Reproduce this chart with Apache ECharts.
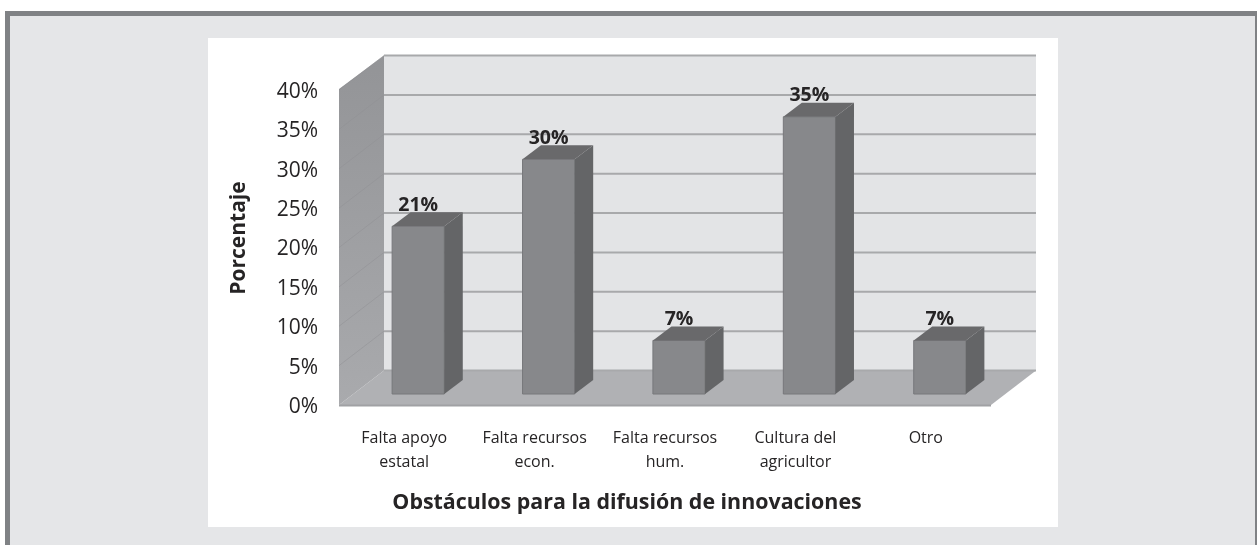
<!DOCTYPE html>
<html>
<head>
<meta charset="utf-8">
<style>html,body{margin:0;padding:0;background:#fff}#c{width:1257px;height:545px}</style>
<script src="https://cdn.jsdelivr.net/npm/echarts@6/dist/echarts.min.js"></script>
</head>
<body>
<div id="c"></div>
<script>
var categories = ['Falta apoyo\nestatal', 'Falta recursos\necon.', 'Falta recursos\nhum.', 'Cultura del\nagricultor', 'Otro'];
var barValues = [21.3, 29.8, 6.8, 35.2, 6.8];
var barLabels = ['21%', '30%', '7%', '35%', '7%'];
var yTicks = [0, 5, 10, 15, 20, 25, 30, 35, 40];
var xTitle = 'Obstáculos para la difusión de innovaciones';
var yTitle = 'Porcentaje';

var FONT = '"Open Sans"';
var INK = '#262425';
var WALL_DX = 45, WALL_DY = -34.5;
var BAR_DX = 14, BAR_DY = -11;
var DEPTH_DX = 18.5, DEPTH_DY = -14;

function poly(points, fill, stroke, z) {
  return {
    type: 'polygon', z2: z || 0,
    shape: { points: points },
    style: { fill: fill, stroke: stroke || null, lineWidth: stroke ? 1 : 0 }
  };
}

function renderWalls(params, api) {
  var g = params.coordSys;
  var x0 = g.x, x1 = g.x + g.width, y0 = g.y + g.height, yT = g.y;
  return {
    type: 'group',
    children: [
      poly([[x0 + WALL_DX, yT + WALL_DY], [x1 + WALL_DX, yT + WALL_DY], [x1 + WALL_DX, y0 + WALL_DY], [x0 + WALL_DX, y0 + WALL_DY]], '#e3e4e6'),
      poly([[x0, y0], [x1, y0], [x1 + WALL_DX, y0 + WALL_DY], [x0 + WALL_DX, y0 + WALL_DY]], '#b0b1b4'),
      poly([[x0, yT - 1], [x0 + WALL_DX, yT + WALL_DY], [x0 + WALL_DX, y0 + WALL_DY], [x0, y0]], {
        type: 'linear', x: 0, y: 0, x2: 0, y2: 1,
        colorStops: [{ offset: 0, color: '#939497' }, { offset: 1, color: '#a9aaad' }]
      }),
      { type: 'line', shape: { x1: x0, y1: y0 + 0.5, x2: x1, y2: y0 + 0.5 }, style: { stroke: '#a0a1a4', lineWidth: 2 } }
    ]
  };
}

function renderGrid(params, api) {
  var g = params.coordSys;
  var y = api.coord([0, api.value(1)])[1];
  var x0 = g.x, x1 = g.x + g.width;
  var isFloor = api.value(1) === 0;
  return {
    type: 'group',
    children: [
      { type: 'line', shape: { x1: x0 + WALL_DX, y1: y + WALL_DY, x2: x1 + WALL_DX, y2: y + WALL_DY }, style: { stroke: '#a8a9ab', lineWidth: 2 } },
      { type: 'line', shape: { x1: x0, y1: y, x2: x0 + WALL_DX, y2: y + WALL_DY }, style: { stroke: '#8f9093', lineWidth: 1, opacity: isFloor ? 0 : 0.5 } }
    ]
  };
}

function renderBar(params, api) {
  var i = api.value(0);
  var base = api.coord([i, 0]);
  var top = api.coord([i, api.value(1)]);
  var w = api.size([1, 0])[0] * 0.4;
  var l = base[0] - w / 2 + BAR_DX, r = l + w;
  var yb = base[1] + BAR_DY, yt = top[1] + BAR_DY;
  return {
    type: 'group',
    children: [
      poly([[l, yb], [r, yb], [r, yt], [l, yt]], '#87888b', '#77787b', 1),
      poly([[r, yb], [r + DEPTH_DX, yb + DEPTH_DY], [r + DEPTH_DX, yt + DEPTH_DY], [r, yt]], '#646567', null, 1),
      poly([[l, yt], [r, yt], [r + DEPTH_DX, yt + DEPTH_DY], [l + DEPTH_DX, yt + DEPTH_DY]], '#69696b', null, 1),
      {
        type: 'text', z2: 5,
        style: {
          x: l + w / 2, y: yt - 21, text: barLabels[i], fill: INK,
          font: 'bold 19.5px ' + FONT, align: 'center', verticalAlign: 'middle'
        }
      }
    ]
  };
}

var chart = echarts.init(document.getElementById('c'), null, { renderer: 'canvas' });
chart.setOption({
  animation: false,
  backgroundColor: '#ffffff',
  graphic: [
    { type: 'rect', z: -3, shape: { x: 5, y: 11, width: 1260, height: 540 }, style: { fill: '#808285' } },
    { type: 'rect', z: -2, shape: { x: 10, y: 16, width: 1245, height: 540 }, style: { fill: '#e5e6e8' } },
    { type: 'rect', z: -1, shape: { x: 208, y: 38, width: 850, height: 489 }, style: { fill: '#ffffff' } },
    { type: 'text', z: 5, x: 627, y: 503, style: { text: xTitle, font: 'bold 21.4px ' + FONT, fill: INK, align: 'center', verticalAlign: 'middle' } },
    { type: 'text', z: 5, x: 239, y: 238, rotation: Math.PI / 2, style: { text: yTitle, font: 'bold 21px ' + FONT, fill: INK, align: 'center', verticalAlign: 'middle' } }
  ],
  grid: { left: 339, top: 90, width: 652, height: 315 },
  xAxis: {
    type: 'category', data: categories,
    axisLine: { show: false }, axisTick: { show: false }, splitLine: { show: false },
    axisLabel: { color: INK, fontFamily: FONT, fontSize: 16, lineHeight: 23.5, margin: 21, interval: 0, padding: [1, 0, 0, 0] }
  },
  yAxis: {
    type: 'value', min: 0, max: 40, interval: 5,
    axisLine: { show: false }, axisTick: { show: false }, splitLine: { show: false },
    axisLabel: {
      margin: 21, formatter: '{t|{value}%}',
      rich: { t: { color: INK, fontFamily: FONT, fontSize: 21, padding: [4, 0, 0, 0] } }
    }
  },
  series: [
    { type: 'custom', z: 1, silent: true, clip: false, renderItem: renderWalls, data: [[0, 0]] },
    { type: 'custom', z: 2, silent: true, clip: false, renderItem: renderGrid, data: yTicks.map(function (t) { return [0, t]; }) },
    { type: 'custom', z: 3, silent: true, clip: false, renderItem: renderBar, data: barValues.map(function (v, i) { return [i, v]; }) }
  ]
});
</script>
</body>
</html>
